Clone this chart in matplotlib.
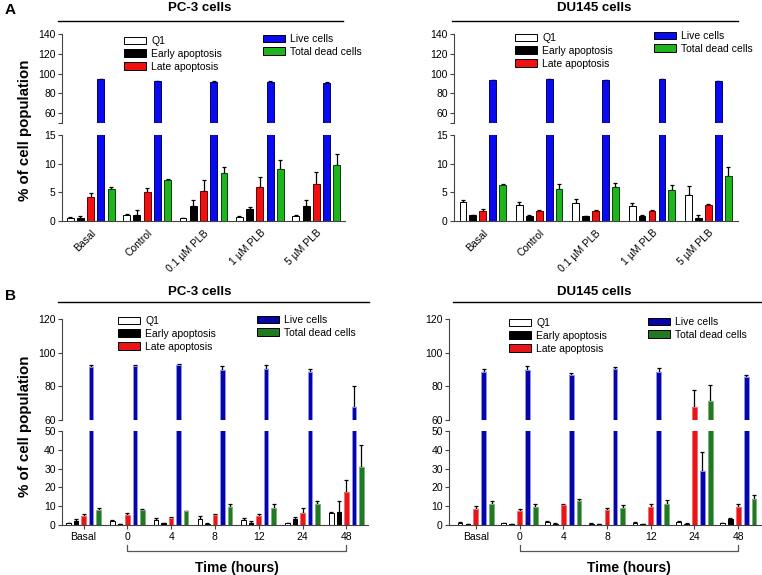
import numpy as np
import matplotlib.pyplot as plt
from matplotlib.patches import Patch
from matplotlib.transforms import blended_transform_factory

plt.rcParams['font.family'] = ['Liberation Sans', 'DejaVu Sans']

W, H = 762, 575

# ---- data ----
dose_labels = ['Basal', 'Control', '0.1 µM PLB', '1 µM PLB', '5 µM PLB']
time_labels = ['Basal', '0', '4', '8', '12', '24', '48']
series_names = ['Q1', 'Early apoptosis', 'Late apoptosis', 'Live cells', 'Total dead cells']

# rows: Q1, early, late, live, total dead
pc3_dose_mean = [[0.6, 1.1, 0.5, 0.7, 0.8],
                 [0.5, 1.1, 2.7, 2.1, 2.6],
                 [4.2, 5.0, 5.2, 6.0, 6.5],
                 [94.5, 92.5, 91.5, 91.0, 90.0],
                 [5.5, 7.2, 8.4, 9.0, 9.8]]
pc3_dose_err = [[0.05, 0.15, 0.1, 0.1, 0.3],
                [0.3, 0.9, 1.0, 0.4, 1.1],
                [0.6, 0.8, 1.9, 1.6, 2.1],
                [0.5, 0.4, 1.0, 1.5, 1.5],
                [0.4, 0.15, 1.0, 1.7, 1.8]]

du_dose_mean = [[3.4, 2.8, 3.1, 2.6, 4.5],
                [1.0, 0.9, 0.9, 0.9, 0.5],
                [1.8, 1.7, 1.8, 1.8, 2.8],
                [93.5, 94.5, 93.5, 94.5, 92.0],
                [6.3, 5.5, 6.0, 5.4, 7.8]]
du_dose_err = [[0.3, 0.5, 0.8, 0.5, 1.6],
               [0.1, 0.1, 0.05, 0.1, 0.5],
               [0.3, 0.3, 0.2, 0.1, 0.1],
               [0.3, 0.5, 0.4, 0.5, 0.7],
               [0.2, 0.9, 0.6, 0.8, 1.6]]

pc3_time_mean = [[0.8, 2.0, 2.5, 3.3, 2.5, 1.0, 6.5],
                 [2.2, 0.4, 0.8, 0.6, 1.2, 3.0, 7.0],
                 [4.8, 5.5, 3.7, 5.4, 5.0, 6.5, 17.5],
                 [91.5, 92.0, 92.5, 90.0, 90.5, 88.5, 68.0],
                 [8.2, 8.0, 7.3, 9.7, 9.0, 11.0, 31.0]]
pc3_time_err = [[0.2, 0.6, 1.0, 1.6, 1.2, 0.3, 0.4],
                [1.0, 0.1, 0.3, 0.4, 0.8, 1.5, 5.8],
                [0.8, 0.8, 0.5, 0.6, 1.0, 2.3, 6.5],
                [1.0, 0.8, 0.6, 2.0, 2.0, 1.8, 12.0],
                [0.8, 0.5, 0.4, 1.7, 2.0, 1.7, 11.5]]

du_time_mean = [[1.2, 0.8, 1.7, 0.7, 1.0, 1.8, 0.9],
                [0.5, 0.5, 0.7, 0.4, 0.3, 0.7, 3.2],
                [8.7, 7.5, 10.5, 8.0, 9.5, 68.0, 9.7],
                [88.5, 90.0, 86.5, 90.2, 88.8, 28.5, 85.5],
                [11.0, 9.5, 13.0, 9.3, 11.0, 71.0, 14.0]]
du_time_err = [[0.2, 0.5, 0.3, 0.3, 0.5, 0.5, 0.2],
               [0.1, 0.1, 0.1, 0.1, 0.1, 0.2, 0.5],
               [1.5, 1.0, 0.5, 1.0, 1.6, 10.0, 1.6],
               [2.0, 2.3, 1.2, 1.5, 2.3, 10.5, 1.5],
               [1.8, 1.8, 0.8, 1.3, 2.5, 10.0, 1.7]]

# styles
style_a = dict(fc=['white', 'black', '#F01010', '#0A0AF0', '#1EB41E'],
               ec=['black', 'black', '#600000', '#000060', '#0A400A'],
               width=0.68, lw=0.7)
style_b = dict(fc=['white', 'black', '#E81418', '#0505A8', '#1F7A22'],
               ec=['black', 'black', '#F07070', '#9090F0', '#80B080'],
               width=0.6, lw=0.7)

fig = plt.figure(figsize=(W / 100, H / 100), dpi=100)


def rect(x0, x1, ytop, ybot):
    return [x0 / W, 1 - ybot / H, (x1 - x0) / W, (ybot - ytop) / H]


def style_axis(ax, bottom=True):
    for s in ['top', 'right']:
        ax.spines[s].set_visible(False)
    ax.spines['left'].set_color('#444444')
    ax.spines['bottom'].set_color('#444444')
    if not bottom:
        ax.spines['bottom'].set_visible(False)
        ax.tick_params(axis='x', bottom=False, labelbottom=False)
    ax.tick_params(axis='y', labelsize=7.5, length=3, width=0.8, color='#444444', pad=1.5)


def draw_panel(x0, x1, hi_y, lo_y, means, errs, labels, step, xlim,
               hi_lim, hi_ticks, lo_lim, lo_ticks, st, timeplot):
    ax_hi = fig.add_axes(rect(x0, x1, hi_y[0], hi_y[1]))
    ax_lo = fig.add_axes(rect(x0, x1, lo_y[0], lo_y[1]))
    n = len(labels)
    for j in range(5):
        xs = np.arange(n) * step + j
        for ax in (ax_hi, ax_lo):
            ax.errorbar(xs, means[j], yerr=[np.zeros(n), errs[j]], fmt='none',
                        ecolor='black', elinewidth=0.9, capsize=1.6, capthick=0.9, zorder=1)
            ax.bar(xs, means[j], width=st['width'], color=st['fc'][j],
                   edgecolor=st['ec'][j], linewidth=st['lw'], zorder=2)
    for ax in (ax_hi, ax_lo):
        ax.set_xlim(*xlim)
    ax_hi.set_ylim(*hi_lim)
    ax_hi.set_yticks(hi_ticks)
    ax_hi.set_yticklabels([str(t) if t >= 60 else '' for t in hi_ticks])
    ax_lo.set_ylim(*lo_lim)
    ax_lo.set_yticks(lo_ticks)
    style_axis(ax_hi, bottom=False)
    style_axis(ax_lo)
    centers = np.arange(n) * step + 2
    ax_lo.set_xticks(centers)
    if timeplot:
        ax_lo.set_xticklabels(labels, fontsize=7.5)
        ax_lo.tick_params(axis='x', length=3, width=0.8, color='#444444', pad=2)
    else:
        ax_lo.set_xticklabels(labels, fontsize=7.5, rotation=45, ha='right',
                              rotation_mode='anchor')
        ax_lo.tick_params(axis='x', length=0, pad=5)
    return ax_hi, ax_lo, centers


def legends(lx, ly, rx, ry, st):
    left_h = [Patch(facecolor=st['fc'][j], edgecolor='black', linewidth=0.7) for j in range(3)]
    right_h = [Patch(facecolor=st['fc'][j], edgecolor='black', linewidth=0.7) for j in (3, 4)]
    kw = dict(frameon=False, fontsize=7.5, handlelength=2.1, handleheight=0.75,
              labelspacing=0.28, handletextpad=0.5, borderpad=0, borderaxespad=0,
              loc='upper left')
    fig.legend(left_h, series_names[:3], bbox_to_anchor=(lx / W, 1 - ly / H), **kw)
    fig.legend(right_h, series_names[3:], bbox_to_anchor=(rx / W, 1 - ry / H), **kw)


def header(title, xc, y_title, lx0, lx1, y_line):
    fig.text(xc / W, 1 - y_title / H, title, ha='center', va='center',
             fontsize=9.5, fontweight='bold')
    fig.add_artist(plt.Line2D([lx0 / W, lx1 / W], [1 - y_line / H, 1 - y_line / H],
                              color='black', linewidth=1.0))


def time_bracket(ax, centers, xc_fig):
    tr = blended_transform_factory(ax.transData, fig.transFigure)
    xa, xb = centers[1], centers[-1]
    yb, yt = 1 - 551 / H, 1 - 545 / H
    ax.plot([xa, xa, xb, xb], [yt, yb, yb, yt], color='#555555', linewidth=0.9,
            transform=tr, clip_on=False)
    fig.text(xc_fig / W, 1 - 568 / H, 'Time (hours)', ha='center', va='center',
             fontsize=10, fontweight='bold')


# ---- panel A ----
hiA = (34, 123)
loA = (135, 221)
draw_panel(62, 345, hiA, loA, pc3_dose_mean, pc3_dose_err, dose_labels, 5.5, (-0.8, 26.8),
           (50, 140), [50, 60, 80, 100, 120, 140], (0, 15), [0, 5, 10, 15], style_a, False)
draw_panel(454, 738, hiA, loA, du_dose_mean, du_dose_err, dose_labels, 5.68, (-0.9, 27.7),
           (50, 140), [50, 60, 80, 100, 120, 140], (0, 15), [0, 5, 10, 15], style_a, False)
header('PC-3 cells', 200, 8, 58, 343, 21)
header('DU145 cells', 594, 8, 452, 738, 21)
legends(124, 36, 263, 34, style_a)
legends(515, 33, 654, 31, style_a)

# ---- panel B ----
hiB = (319, 420)
loB = (431, 525)
_, axl, cl = draw_panel(62, 368, hiB, loB, pc3_time_mean, pc3_time_err, time_labels, 5.85,
                        (-0.88, 40), (60, 120), [60, 80, 100, 120], (0, 50),
                        [0, 10, 20, 30, 40, 50], style_b, True)
_, axr, cr = draw_panel(449, 761, hiB, loB, du_time_mean, du_time_err, time_labels, 5.53,
                        (-1.39, 38.06), (60, 120), [60, 80, 100, 120], (0, 50),
                        [0, 10, 20, 30, 40, 50], style_b, True)
header('PC-3 cells', 200, 292, 58, 369, 302)
header('DU145 cells', 594, 292, 453, 761, 302)
legends(118, 316, 257, 315, style_b)
legends(509, 318, 648, 317, style_b)
time_bracket(axl, cl, 237)
time_bracket(axr, cr, 629)

# y labels and panel letters
for yc in (130, 426):
    fig.text(25 / W, 1 - yc / H, '% of cell population', rotation=90, ha='center',
             va='center', fontsize=10.8, fontweight='bold')
fig.text(5 / W, 1 - 10 / H, 'A', fontsize=11, fontweight='bold', va='center')
fig.text(5 / W, 1 - 296 / H, 'B', fontsize=11, fontweight='bold', va='center')

fig.savefig('out.png', dpi=100)
